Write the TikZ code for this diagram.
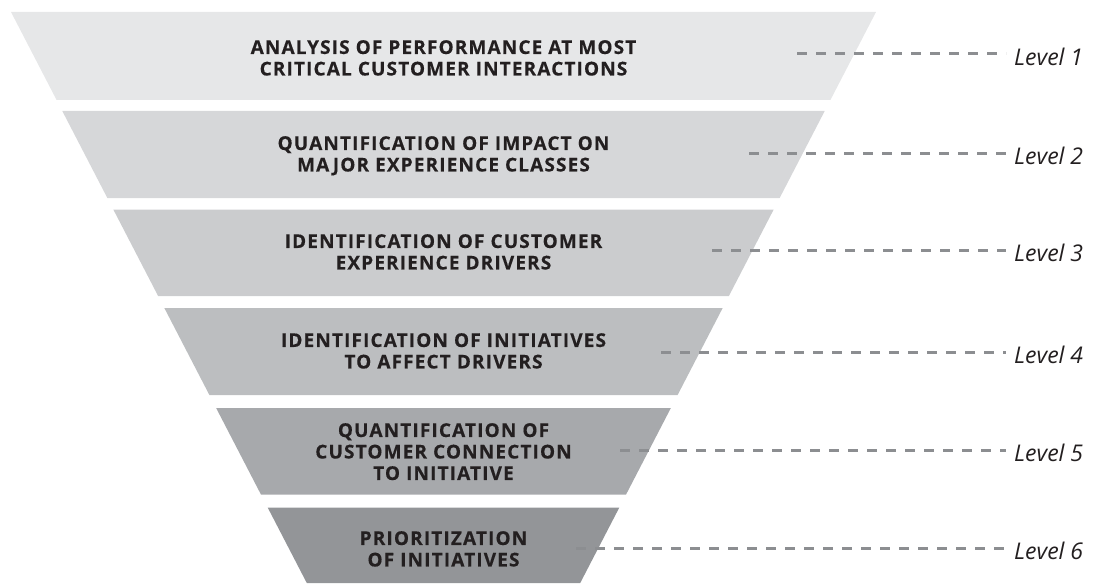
\documentclass[tikz,border=0pt]{standalone}
\usepackage{fontspec}
\setmainfont{Open Sans}
\newfontfamily\bandfont[LetterSpace=6,BoldFeatures={FakeBold=0.35}]{Open Sans}
\definecolor{bandA}{HTML}{E6E7E8}
\definecolor{bandB}{HTML}{D6D7D9}
\definecolor{bandC}{HTML}{CBCCCE}
\definecolor{bandD}{HTML}{BCBEC0}
\definecolor{bandE}{HTML}{A7A9AC}
\definecolor{bandF}{HTML}{939598}
\definecolor{leadergray}{HTML}{8C8E91}
\definecolor{ink}{HTML}{231F20}
% one horizontal slice of the funnel: top y, bottom y, fill colour
\newcommand\bandslice[3]{%
  \fill[#3] ({11+0.518*(#1-12)},#1) -- ({876-0.518*(#1-12)},#1)
    -- ({876-0.518*(#2-12)},#2) -- ({11+0.518*(#2-12)},#2) -- cycle;}
\begin{document}
\begin{tikzpicture}[x=1pt,y=-1pt,
  bandtext/.style={anchor=north, inner sep=0pt, align=center, text=ink,
    font=\bandfont\bfseries\fontsize{19}{21.5}\selectfont},
  leader/.style={draw=leadergray, line width=3pt, dash pattern=on 10pt off 9pt},
  levellabel/.style={anchor=west, inner sep=0pt, text=ink,
    font=\itshape\fontsize{23}{27}\selectfont}]
\useasboundingbox (0,0) rectangle (1099,583);

% funnel slices
\bandslice{12}{100}{bandA}
\bandslice{111}{198}{bandB}
\bandslice{209.5}{296}{bandC}
\bandslice{308}{395}{bandD}
\bandslice{408}{494.5}{bandE}
\bandslice{507.5}{583}{bandF}

% slice captions
\node[bandtext] (t1) at (443.5,40) {ANALYSIS OF PERFORMANCE AT MOST\\CRITICAL CUSTOMER INTERACTIONS};
\node[bandtext] (t2) at (443.5,136) {QUANTIFICATION OF IMPACT ON\\MAJOR EXPERIENCE CLASSES};
\node[bandtext] (t3) at (443.5,234) {IDENTIFICATION OF CUSTOMER\\EXPERIENCE DRIVERS};
\node[bandtext] (t4) at (443.5,333) {IDENTIFICATION OF INITIATIVES\\TO AFFECT DRIVERS};
\node[bandtext] (t5) at (443.5,423) {QUANTIFICATION OF\\CUSTOMER CONNECTION\\TO INITIATIVE};
\node[bandtext] (t6) at (443.5,531) {PRIORITIZATION\\OF INITIATIVES};

% level labels and their dashed leaders
\foreach \i/\xs/\yl in {1/797/54, 2/749/153, 3/712/250, 4/661/352, 5/620/450, 6/576/548} {
  \coordinate (s\i) at (\xs,\yl);
  \node[levellabel] (lv\i) at (1014,\yl+2.5) {Level \i};
  \draw[leader] (s\i) -- ([xshift=-8pt]s\i -| lv\i.west);
}
\end{tikzpicture}
\end{document}
